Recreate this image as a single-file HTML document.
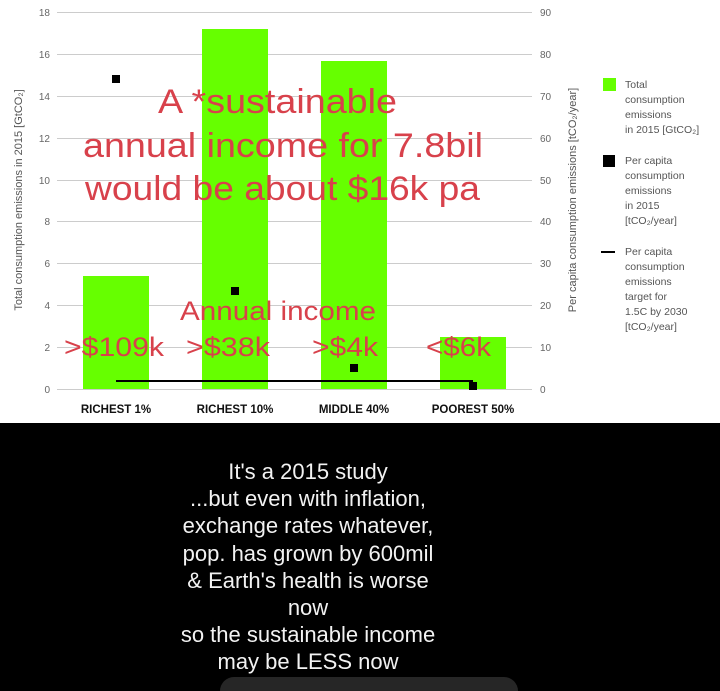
<!DOCTYPE html>
<html><head><meta charset="utf-8"><style>
html,body{margin:0;width:720px;height:691px;overflow:hidden;background:#fff;font-family:"Liberation Sans",sans-serif}
.blk{position:absolute;left:0;top:423px;width:720px;height:268px;background:#000}
.bt{position:absolute;left:158px;width:300px;top:458px;text-align:center;color:#f2f2f2;font-size:22px;line-height:27.2px}
.pill{position:absolute;left:220px;top:677px;width:298px;height:14px;border-radius:14px 14px 0 0;background:#262626}
</style></head><body>
<svg width="720" height="423" style="position:absolute;left:0;top:0" font-family="Liberation Sans, sans-serif">
<g stroke="#ccc" stroke-width="1">
<line x1="57" x2="532" y1="12.5" y2="12.5"/><line x1="57" x2="532" y1="54.5" y2="54.5"/><line x1="57" x2="532" y1="96.5" y2="96.5"/><line x1="57" x2="532" y1="138.5" y2="138.5"/><line x1="57" x2="532" y1="180.5" y2="180.5"/><line x1="57" x2="532" y1="221.5" y2="221.5"/><line x1="57" x2="532" y1="263.5" y2="263.5"/><line x1="57" x2="532" y1="305.5" y2="305.5"/><line x1="57" x2="532" y1="347.5" y2="347.5"/><line x1="57" x2="532" y1="389.5" y2="389.5"/>
</g>
<g font-size="10" fill="#666" text-anchor="end">
<text x="50" y="16">18</text><text x="50" y="58">16</text><text x="50" y="100">14</text><text x="50" y="142">12</text><text x="50" y="184">10</text><text x="50" y="225">8</text><text x="50" y="267">6</text><text x="50" y="309">4</text><text x="50" y="351">2</text><text x="50" y="393">0</text>
</g>
<g font-size="10" fill="#666">
<text x="540" y="16">90</text><text x="540" y="58">80</text><text x="540" y="100">70</text><text x="540" y="142">60</text><text x="540" y="184">50</text><text x="540" y="225">40</text><text x="540" y="267">30</text><text x="540" y="309">20</text><text x="540" y="351">10</text><text x="540" y="393">0</text>
</g>
<text transform="translate(22,200) rotate(-90)" font-size="11" fill="#555" text-anchor="middle">Total consumption emissions in 2015 [GtCO₂]</text>
<text transform="translate(576,200) rotate(-90)" font-size="11" fill="#555" text-anchor="middle">Per capita consumption emissions  [tCO₂/year]</text>
<g fill="#66ff00">
<rect x="83" y="276" width="66" height="113"/><rect x="202" y="29" width="66" height="360"/><rect x="321" y="61" width="66" height="328"/><rect x="440" y="337" width="66" height="52"/>
</g>
<line x1="116" x2="473" y1="381" y2="381" stroke="#000" stroke-width="2"/>
<g fill="#000"><rect x="112" y="75" width="8" height="8"/><rect x="231" y="287" width="8" height="8"/><rect x="350" y="364" width="8" height="8"/><rect x="469" y="382" width="8" height="8"/></g>
<g font-size="11.5" fill="#111" text-anchor="middle" font-weight="bold">
<text x="116" y="413">RICHEST 1%</text><text x="235" y="413">RICHEST 10%</text><text x="354" y="413">MIDDLE 40%</text><text x="473" y="413">POOREST 50%</text>
</g>
<g fill="#d8414b" font-size="34">
<text x="158" y="113" textLength="239" lengthAdjust="spacingAndGlyphs">A *sustainable</text>
<text x="83" y="157" textLength="400" lengthAdjust="spacingAndGlyphs">annual income for 7.8bil</text>
<text x="85" y="200" textLength="395" lengthAdjust="spacingAndGlyphs">would be about $16k pa</text>
</g>
<g fill="#d8414b" font-size="27">
<text x="180" y="320" textLength="196" lengthAdjust="spacingAndGlyphs">Annual income</text>
<text x="64" y="356" textLength="100" lengthAdjust="spacingAndGlyphs">&gt;$109k</text><text x="186" y="356" textLength="84" lengthAdjust="spacingAndGlyphs">&gt;$38k</text><text x="312" y="356" textLength="66" lengthAdjust="spacingAndGlyphs">&gt;$4k</text><text x="426" y="356" textLength="65" lengthAdjust="spacingAndGlyphs">&lt;$6k</text>
</g>
<rect x="603" y="78" width="13" height="13" fill="#66ff00"/>
<rect x="603" y="155" width="12" height="12" fill="#000"/>
<line x1="601" x2="615" y1="252" y2="252" stroke="#000" stroke-width="2"/>
<g font-size="10.5" fill="#555">
<text x="625" y="88">Total</text><text x="625" y="103">consumption</text><text x="625" y="118">emissions</text><text x="625" y="133">in 2015 [GtCO₂]</text>
<text x="625" y="164">Per capita</text><text x="625" y="179">consumption</text><text x="625" y="194">emissions</text><text x="625" y="209">in 2015</text><text x="625" y="224">[tCO₂/year]</text>
<text x="625" y="255">Per capita</text><text x="625" y="270">consumption</text><text x="625" y="285">emissions</text><text x="625" y="300">target for</text><text x="625" y="315">1.5C by 2030</text><text x="625" y="330">[tCO₂/year]</text>
</g>
</svg>
<div class="blk"></div>
<div class="bt">It's a 2015 study<br>...but even with inflation,<br>exchange rates whatever,<br>pop. has grown by 600mil<br>&amp; Earth's health is worse<br>now<br>so the sustainable income<br>may be LESS now</div>
<div class="pill"></div>
</body></html>
